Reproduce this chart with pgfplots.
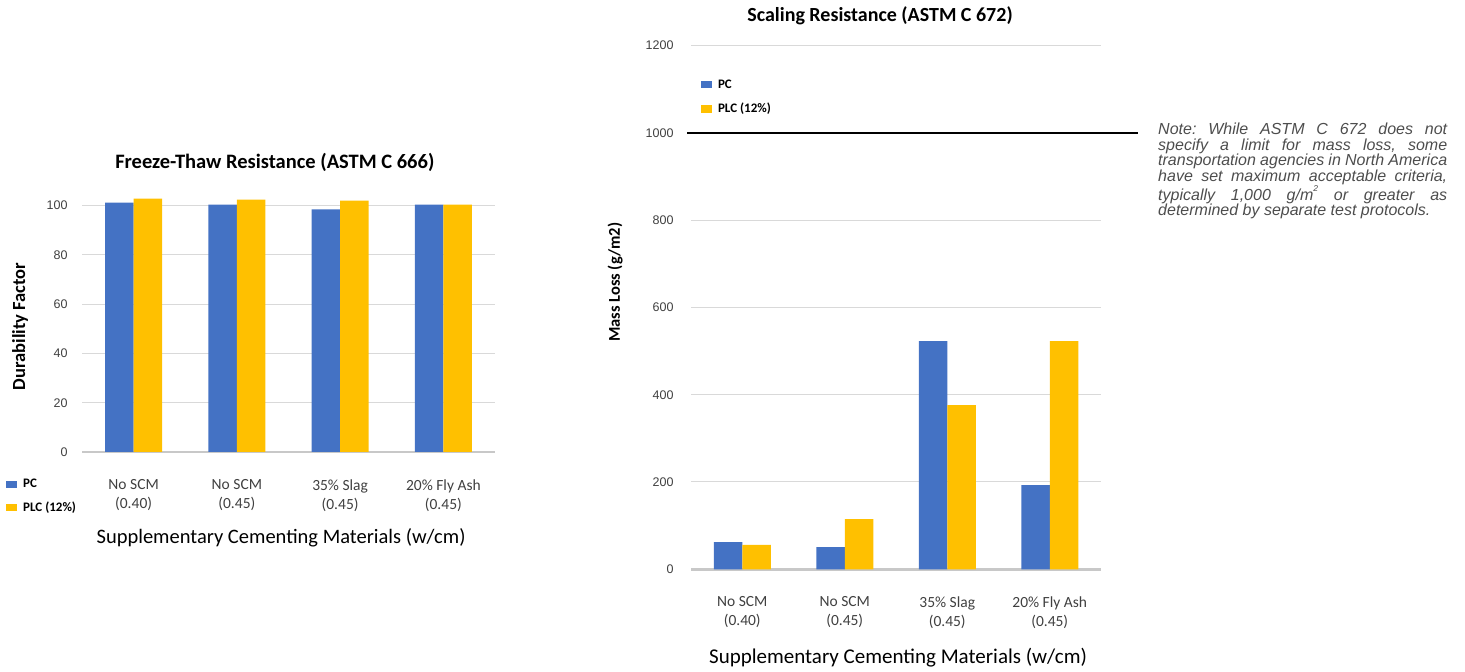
\documentclass[border=0pt]{standalone}
\usepackage{pgfplots}
\pgfplotsset{compat=1.18}
\usepackage{fontspec}
\setmainfont{Carlito}
\newfontfamily\arialfont{Liberation Sans}
\frenchspacing

\definecolor{pcblue}{HTML}{4472C4}
\definecolor{plcgold}{HTML}{FFC000}
\definecolor{gridgray}{HTML}{D9D9D9}
\definecolor{basegray}{HTML}{C8C8C8}
\definecolor{ticktext}{HTML}{404040}
\definecolor{notegray}{HTML}{4D4D4D}

\pgfplotsset{
  barchart/.style={
    scale only axis, ybar=0pt, bar width=28.5pt,
    xmin=-0.5, xmax=3.5, xtick={0,1,2,3},
    xticklabels={{No SCM\\(0.40)},{No SCM\\(0.45)},{35\% Slag\\(0.45)},{20\% Fly Ash\\(0.45)}},
    ymin=0,
    axis lines=left, axis line style={-},
    y axis line style={draw=none},
    x axis line style={draw=basegray, line width=2.5pt},
    ymajorgrids, grid style={draw=gridgray, line width=1pt},
    major tick length=0pt, tick style={draw=none},
    /pgf/number format/assume math mode=true,
    /pgf/number format/set thousands separator={},
    yticklabel style={font=\arialfont\fontsize{12.5}{15}\selectfont, text=ticktext},
    xticklabel style={font=\fontsize{15.5}{19}\selectfont, align=center, text=ticktext, anchor=north, yshift=-24pt},
    legend image code/.code={\fill[##1] (0pt,-3.8pt) rectangle (11pt,3.8pt); \path (15pt,0pt);},
    legend style={draw=none, fill=none, font=\fontsize{13}{15}\selectfont\bfseries, row sep=8.5pt, inner sep=0pt, anchor=north west},
    legend cell align=left,
    every axis title shift=0pt,
    title style={anchor=center},
    xlabel style={anchor=center},
    ylabel style={anchor=center},
  }
}

\pgfplotstableread{
x  pc     plc
0  101.2  102.8
1  100.4  102.4
2  98.4   102.0
3  100.4  100.4
}\freezethaw

\pgfplotstableread{
x  pc   plc
0  62   56
1  51   115
2  523  376
3  193  523
}\scaling

\begin{document}
\begin{tikzpicture}
\useasboundingbox (0pt,0pt) rectangle (1465pt,672pt);

% Freeze-thaw durability factor
\begin{axis}[barchart,
  at={(82pt,220pt)}, anchor=south west,
  width=413pt, height=258.8pt,
  ymax=105, ytick={0,20,...,100},
  yticklabel style={xshift=-11pt},
  title={Freeze-Thaw Resistance (ASTM C 666)},
  title style={at={(axis description cs:0.467,1.12)}, font=\fontsize{20.5}{24}\selectfont\bfseries},
  xlabel={Supplementary Cementing Materials (w/cm)},
  xlabel style={at={(axis description cs:0.482,-0.332)}, font=\fontsize{20.5}{24}\selectfont},
  ylabel={Durability Factor},
  ylabel style={at={(axis description cs:-0.150,0.485)}, font=\fontsize{18.5}{22}\selectfont\bfseries},
  legend style={at={(axis description cs:-0.184,-0.097)}},
]
\addplot[fill=pcblue, draw=none] table[x=x, y=pc] {\freezethaw};
\addplot[fill=plcgold, draw=none] table[x=x, y=plc] {\freezethaw};
\legend{PC, PLC (12\%)}
\end{axis}

% Scaling mass loss
\begin{axis}[barchart,
  at={(691pt,102.7pt)}, anchor=south west,
  width=410pt, height=523.8pt,
  ymax=1200, ytick={0,200,...,1200},
  clip=false,
  yticklabel style={xshift=-14pt},
  title={Scaling Resistance (ASTM C 672)},
  title style={at={(axis description cs:0.461,1.057)}, font=\fontsize{20}{24}\selectfont\bfseries},
  xlabel={Supplementary Cementing Materials (w/cm)},
  xlabel style={at={(axis description cs:0.505,-0.169)}, font=\fontsize{21}{25}\selectfont},
  ylabel={Mass Loss (g/m2)},
  ylabel style={at={(axis description cs:-0.185,0.548)}, font=\fontsize{16.5}{20}\selectfont\bfseries},
  legend style={at={(axis description cs:0.024,0.939)}, row sep=9.5pt},
]
\addplot[fill=pcblue, draw=none] table[x=x, y=pc] {\scaling};
\addplot[fill=plcgold, draw=none] table[x=x, y=plc] {\scaling};
\legend{PC, PLC (12\%)}
% 1000 g/m2 agency limit
\draw[black, line width=1.6pt] ([xshift=-4pt]axis cs:-0.5,1000) -- ([xshift=37pt]axis cs:3.5,1000);
\end{axis}

\node[anchor=north west, inner sep=0pt, text width=289pt, align=justify,
      font=\arialfont\itshape\fontsize{16}{15.5}\selectfont, text=notegray]
  at (1158pt,549pt)
  {Note: While ASTM C 672 does not\linebreak
   specify a limit for mass loss, some\linebreak
   transportation agencies in North America\linebreak
   have set maximum acceptable criteria,\linebreak
   typically 1,000 g/m\raisebox{0.55em}{\fontsize{8.5}{9}\selectfont 2} or greater as\linebreak
   determined by separate test protocols.};
\end{tikzpicture}
\end{document}
